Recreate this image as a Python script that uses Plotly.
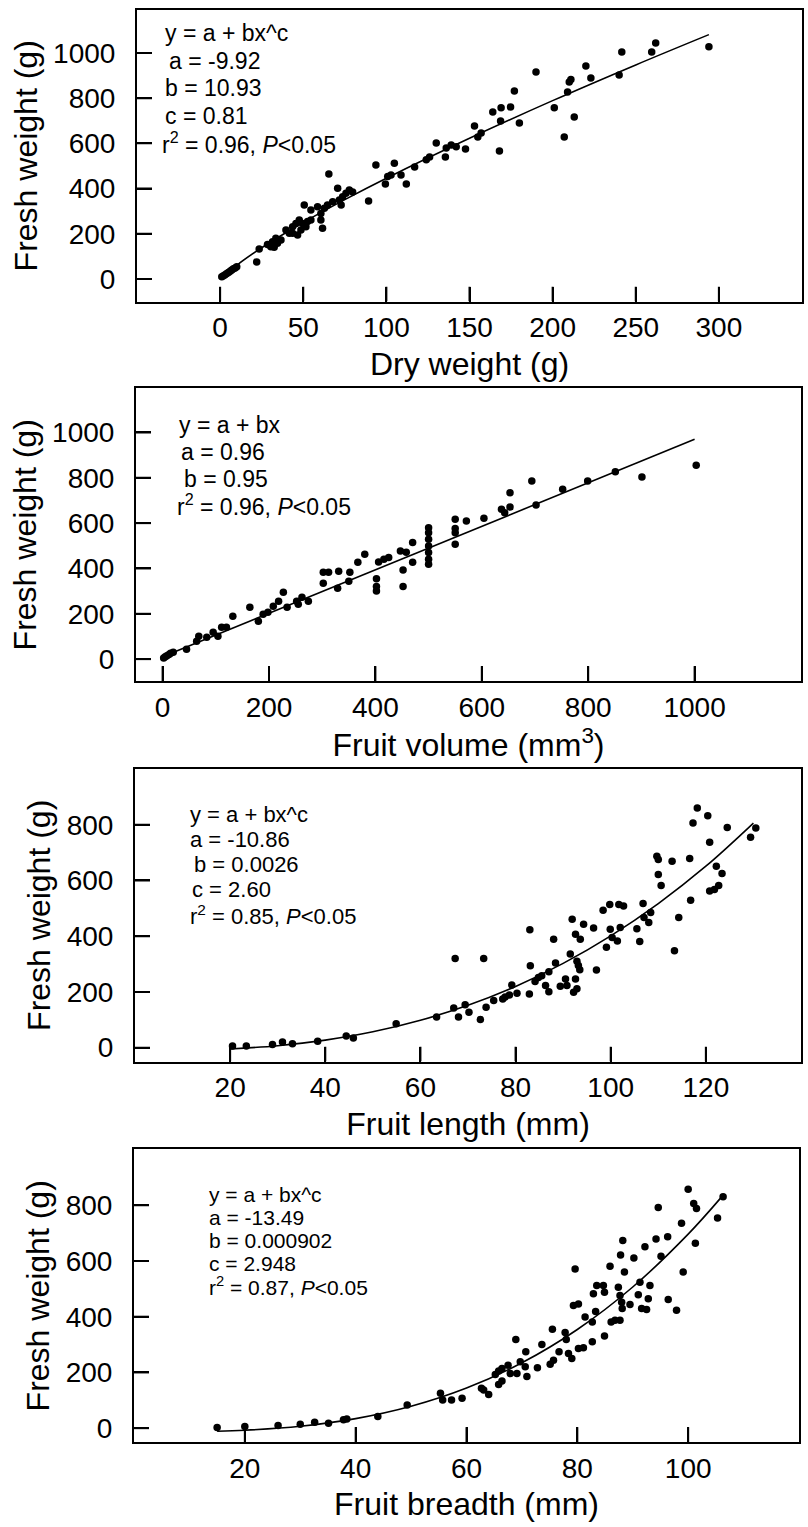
import plotly.graph_objects as go

W, H = 808, 1527
FONT = "Arial, Liberation Sans, Helvetica, sans-serif"

# ---------------- Panel 1: Dry weight vs fresh weight ----------------
dry_x = [1, 2, 3, 4, 5, 6, 7, 8, 9, 10,
         22, 23.5,
         28.5, 30.5, 32.5, 34.5, 36.6, 33.5, 31.5,
         39.6, 41.6, 43.6, 45.6, 47.6, 49.6, 51.6, 48.6, 46.6, 43.6, 52.6, 54.6,
         50.6, 54.6, 58.6, 60.6, 62.7, 64.6, 67.7, 60.6, 61.6,
         65.4, 70.7, 71.7, 73.7, 75.7, 77.7, 72.8, 79.7, 89.3, 93.7, 99.4,
         100.8, 102.8, 104.8, 108.8,
         112, 117, 124, 126, 130, 135.5, 136, 139, 142, 147.6,
         153, 155, 157, 164, 169, 168, 168.7, 174.7, 177, 180,
         190, 201, 207, 209, 210, 211, 213, 220, 223,
         240, 241.6, 259.6, 262, 294]
dry_y = [10, 14, 19, 24, 29, 34, 40, 45, 49, 54,
         75, 133,
         153, 143, 140, 158, 173, 180, 165,
         217, 202, 231, 246, 261, 246, 231, 217, 195, 202, 254, 261,
         327, 305, 320, 290, 313, 327, 342, 261, 224,
         465, 402, 350, 364, 379, 394, 327, 385, 345, 504, 420,
         453, 460, 512, 460,
         420, 496, 527, 540, 602, 540, 580, 593, 585, 575,
         677, 628, 646, 739, 757, 566, 699, 761, 832, 690,
         916, 757, 628, 827, 872, 882, 717, 942, 889,
         902, 1004, 1004, 1044, 1027]
dry_fit_x = [1, 10, 25, 50, 75, 100, 150, 200, 250, 294]
dry_fit_y = [1.0, 60.7, 138.3, 249.9, 351.0, 445.8, 622.6, 789.0, 947.0, 1081.0]

# ---------------- Panel 2: Fruit volume ----------------
vol_x = [2, 5, 8, 12, 15, 20,
         45, 64, 68, 83, 95, 104, 111, 120, 132,
         164, 180, 189, 198, 208, 218, 227, 234,
         252, 255, 262, 274,
         302, 312, 302, 329, 331, 350, 352, 367, 380,
         402, 402, 402, 406, 416, 425, 447,
         452, 452, 458, 470, 470,
         500, 500, 500, 500, 500, 500, 500,
         550, 550, 550, 550, 571, 604,
         637, 643, 653, 653, 694, 702, 752, 799, 851, 901, 1003]
vol_y = [5, 10, 15, 20, 26, 30,
         44, 79, 101, 97, 119, 101, 141, 141, 189,
         229, 167, 198, 207, 233, 255, 295, 229,
         255, 242, 273, 255,
         383, 383, 335, 313, 388, 344, 383, 427, 463,
         300, 320, 355, 429, 441, 448, 477,
         393, 320, 471, 515, 427,
         580, 558, 529, 499, 470, 441, 419,
         617, 576, 558, 507, 609, 621,
         661, 646, 671, 734, 786, 680, 749, 786, 827, 803, 855]
vol_fit_x = [0, 1000]
vol_fit_y = [10, 970]

# ---------------- Panel 3: Fruit length ----------------
len_x = [20.5, 23.4, 28.9, 31, 33.1, 38.4, 44.4, 45.9, 54.9,
         63.4, 67, 68, 67.3, 69.4, 70.2, 72.6, 73.3, 73.8, 75.4, 77.3, 77.8,
         78.7, 79.2, 80.3, 82.9, 83.1, 83, 84.1, 84.8, 85.5, 86.3, 87, 87,
         88, 88.4, 89.4, 90.5, 90.8, 91.5, 91.9, 92.6, 92.6, 92.9, 92.2,
         92.9, 93.2, 93.5, 93.6, 94.3, 96.4, 97, 98.4, 99.1, 99.8, 101.7, 102.7,
         99.9, 100.3, 101.4, 102, 105.5, 106.1, 106.8, 107, 108, 108.4,
         109.7, 110, 110, 110.6, 112.9, 113.4, 114.3, 116.6, 116.8, 117.3,
         118.2, 120.4, 120.8, 120.8, 121.8, 122.7, 122.2, 123.4, 124.5, 129.4, 130.5]
len_y = [6, 6, 11, 20, 14, 23, 42, 35, 86,
         110, 142, 110, 320, 154, 127, 101, 320, 145, 169, 175, 182,
         189, 225, 195, 193, 294, 423, 237, 252, 258, 223, 201, 272,
         389, 304, 220, 246, 223, 336, 461, 407, 246, 211, 199,
         310, 295, 280, 389, 443, 429, 279, 493, 360, 514, 514, 508,
         425, 395, 383, 431, 427, 381, 517, 467, 449, 485,
         687, 675, 621, 582, 669, 348, 467, 679, 529, 806,
         860, 832, 737, 562, 568, 582, 651, 625, 790, 755, 788]
len_fit_x = [20, 30, 40, 50, 60, 70, 80, 90, 100, 110, 120, 130]
len_fit_y = [-4.6, 7.1, 27.2, 57.0, 98.2, 152.0, 219.7, 302.4, 401.2, 517.2, 651.1, 806.0]

# ---------------- Panel 4: Fruit breadth ----------------
br_x = [15, 20, 26, 30, 32.6, 35.1, 37.8, 38.4, 44,
        49.3, 55.3, 55.7, 57.3, 59.2, 62.7, 63.1, 64,
        65.2, 65.8, 66.4, 65.8, 66.4, 67.5, 67.9, 68.9,
        69.1, 69.7, 70.6, 70.7, 70.9, 72.8, 73.6, 75.1, 75.7, 75.5, 76.7,
        77.8, 78, 78.4, 79, 79.3, 80.2, 79.6, 80.2, 81.1, 81.4, 82.7,
        82.7, 83.3, 82.9, 83.5, 84.7, 84.9, 84.9, 85.9, 86.1, 86.8, 87.7,
        87.4, 87.7, 88, 88.1, 87.8, 88.2, 88.5, 89.5, 90.2, 91.3, 91,
        91.6, 92.5, 92.8, 93.1, 92.2, 94.2, 94.6, 95.1, 96.3, 96.4, 97.9,
        98.8, 99.1, 100, 101, 101.5, 101.3, 105.3, 106.3]
br_y = [2, 6, 10, 14, 21, 18, 30, 33, 42,
        83, 125, 101, 101, 107, 143, 137, 121,
        193, 205, 214, 157, 169, 226, 196, 318,
        196, 238, 220, 274, 185, 217, 300, 229, 244, 355, 274,
        343, 318, 268, 250, 440, 446, 571, 286, 289, 399, 310,
        381, 419, 482, 512, 512, 488, 331, 581, 381, 387, 387,
        506, 476, 452, 429, 621, 673, 560, 444, 611, 524, 479,
        429, 426, 464, 512, 651, 679, 792, 617, 687, 462, 423,
        735, 560, 857, 806, 788, 664, 754, 830]
br_fit_x = [15, 20, 30, 40, 50, 60, 70, 80, 90, 100, 106]
br_fit_y = [-10.8, -7.3, 6.9, 34.2, 78.5, 143.9, 234.6, 354.1, 506.6, 696.4, 829.1]

# ---------------- Text ----------------
x_titles = ["Dry weight (g)", "Fruit volume (mm<sup>3</sup>)",
            "Fruit length (mm)", "Fruit breadth (mm)"]
y_title = "Fresh weight (g)"
eq_texts = [
    ["y = a + bx^c", "a = -9.92", "b = 10.93", "c = 0.81",
     "r<sup>2</sup> = 0.96, <i>P</i>&lt;0.05"],
    ["y = a + bx", "a = 0.96", "b = 0.95",
     "r<sup>2</sup> = 0.96, <i>P</i>&lt;0.05"],
    ["y = a + bx^c", "a = -10.86", "b = 0.0026", "c = 2.60",
     "r<sup>2</sup> = 0.85, <i>P</i>&lt;0.05"],
    ["y = a + bx^c", "a = -13.49", "b = 0.000902", "c = 2.948",
     "r<sup>2</sup> = 0.87, <i>P</i>&lt;0.05"],
]
x_ticks = [[0, 50, 100, 150, 200, 250, 300],
           [0, 200, 400, 600, 800, 1000],
           [20, 40, 60, 80, 100, 120],
           [20, 40, 60, 80, 100]]
y_ticks = [[0, 200, 400, 600, 800, 1000],
           [0, 200, 400, 600, 800, 1000],
           [0, 200, 400, 600, 800],
           [0, 200, 400, 600, 800]]
x_ranges = [[-50, 350], [-50, 1200], [0, 140], [0, 120]]
y_ranges = [[-100, 1190], [-97, 1194], [-50, 1000], [-50, 1000]]

# panel frames in pixels: left, right, top, bottom
frames = [(137, 802, 10, 302), (136, 801, 389, 682),
          (135, 801, 770, 1063), (134, 799, 1151, 1444)]
eq_size = [23, 23, 22, 21]
eq_pos = [
    [(163, 33), (167, 61), (163, 88), (163, 116), (160, 143)],
    [(177, 426), (179, 453), (182, 480), (175, 506)],
    [(188, 816), (188, 841), (192, 866), (190, 891), (188, 916)],
    [(207, 1196), (207, 1219), (207, 1242), (207, 1265), (207, 1288)],
]
TICK_LEN = 15  # pixels, inward tick marks
TICK_W = 2

scatter_x = [dry_x, vol_x, len_x, br_x]
scatter_y = [dry_y, vol_y, len_y, br_y]
fit_x = [dry_fit_x, vol_fit_x, len_fit_x, br_fit_x]
fit_y = [dry_fit_y, vol_fit_y, len_fit_y, br_fit_y]

fig = go.Figure()
layout = dict(width=W, height=H, margin=dict(l=0, r=0, t=0, b=0),
              paper_bgcolor="white", plot_bgcolor="white",
              showlegend=False, font=dict(family=FONT, color="black"))
annotations = []

for i in range(4):
    n = "" if i == 0 else str(i + 1)
    xa, ya = "x" + n, "y" + n
    l, r, t, b = frames[i]
    x0, x1 = x_ranges[i]
    y0, y1 = y_ranges[i]
    # inward tick marks derived from tick values and axis ranges
    dy = TICK_LEN / (b - t) * (y1 - y0)
    dx = TICK_LEN / (r - l) * (x1 - x0)
    tx, ty = [], []
    for v in x_ticks[i]:
        tx += [v, v, None]
        ty += [y0, y0 + dy, None]
    for v in y_ticks[i]:
        tx += [x0, x0 + dx, None]
        ty += [v, v, None]
    fig.add_trace(go.Scatter(x=tx, y=ty, mode="lines", connectgaps=False,
                             line=dict(color="black", width=TICK_W),
                             xaxis=xa, yaxis=ya, hoverinfo="skip"))
    fig.add_trace(go.Scatter(x=fit_x[i], y=fit_y[i], mode="lines",
                             line=dict(color="black", width=1.6, shape="spline"),
                             xaxis=xa, yaxis=ya, hoverinfo="skip"))
    fig.add_trace(go.Scatter(x=scatter_x[i], y=scatter_y[i], mode="markers",
                             marker=dict(color="black", size=7.5),
                             xaxis=xa, yaxis=ya))
    common = dict(showline=True, linecolor="black", linewidth=2, mirror=True,
                  ticks="inside", ticklen=TICK_LEN, tickwidth=TICK_W,
                  tickcolor="black", showgrid=False, zeroline=False,
                  tickfont=dict(size=28, family=FONT, color="black"))
    layout["xaxis" + n] = dict(domain=[l / W, r / W], range=x_ranges[i],
                               tickvals=x_ticks[i], anchor=ya,
                               title=dict(text=x_titles[i], standoff=10,
                                          font=dict(size=32, family=FONT)),
                               **common)
    layout["yaxis" + n] = dict(domain=[1 - b / H, 1 - t / H], range=y_ranges[i],
                               tickvals=y_ticks[i], anchor=xa,
                               ticklabelstandoff=14,
                               title=dict(text=y_title, standoff=6,
                                          font=dict(size=32, family=FONT)),
                               **common)
    for txt, (px, py) in zip(eq_texts[i], eq_pos[i]):
        annotations.append(dict(text=txt, xref="paper", yref="paper",
                                x=px / W, y=1 - py / H, xanchor="left",
                                yanchor="middle", showarrow=False,
                                font=dict(size=eq_size[i], family=FONT, color="black")))

layout["annotations"] = annotations
fig.update_layout(**layout)
fig.write_html("out.html")
